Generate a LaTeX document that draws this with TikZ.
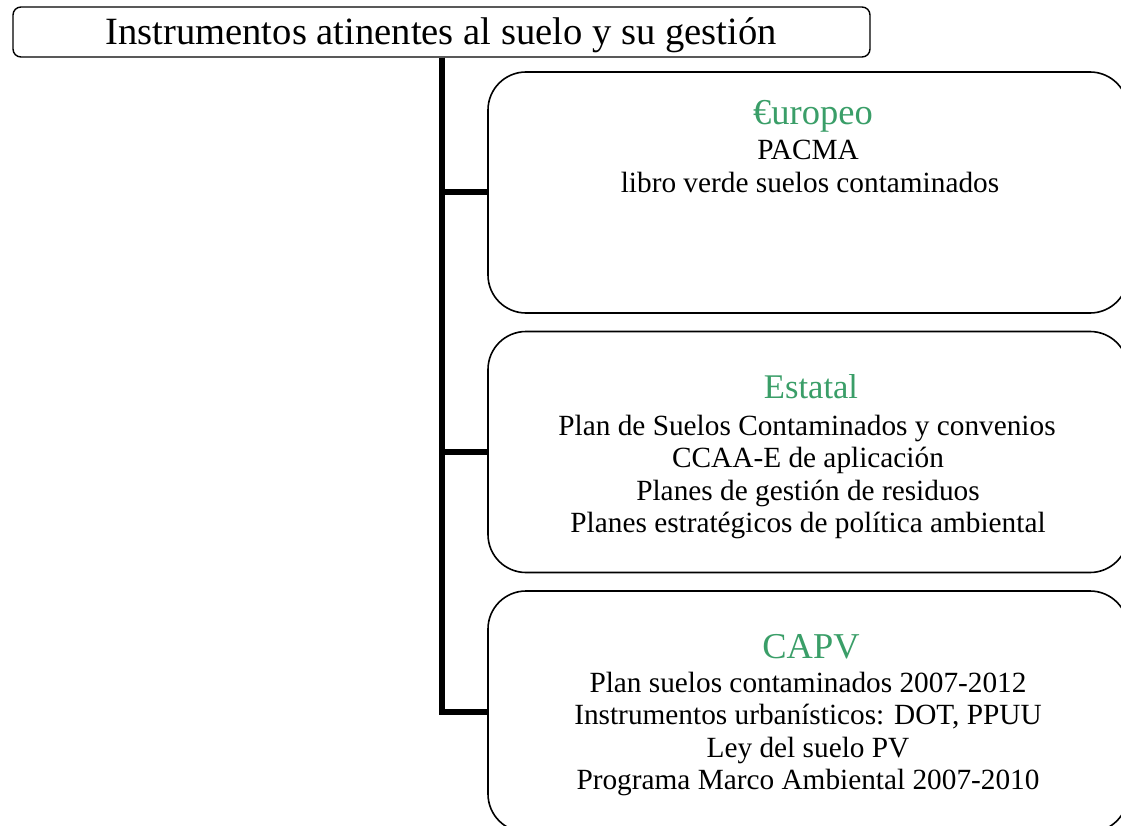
\documentclass[tikz,border=0pt]{standalone}
\usepackage{fontspec}
\setmainfont{Liberation Serif}
\definecolor{hgreen}{RGB}{58,158,104}
\tikzset{
  frame/.style={draw=black, line width=1.6pt, rounded corners=38pt, minimum width=640pt, minimum height=241pt, inner sep=0pt},
  titlebox/.style={draw=black, line width=1.4pt, rounded corners=8pt, minimum width=857pt, minimum height=50pt, inner sep=0pt},
  conn/.style={line width=6pt},
  head/.style={anchor=base, inner sep=0pt, text=hgreen, font=\fontsize{34.6}{38}\selectfont},
  bighead/.style={anchor=base, inner sep=0pt, text=hgreen, font=\fontsize{36.4}{40}\selectfont},
  body/.style={anchor=base, inner sep=0pt, font=\fontsize{29.3}{32}\selectfont},
  ttl/.style={anchor=base, inner sep=0pt, font=\fontsize{38.6}{42}\selectfont}
}
\begin{document}
\begin{tikzpicture}[x=1pt,y=-1pt]
\useasboundingbox (0,0) rectangle (1121,826);
\clip (0,0) rectangle (1121,826);
\node[titlebox] (title) at (441.5,32) {};
\node[ttl] (tt) at (441,45) {Instrumentos atinentes al suelo y su gestión};
\node[frame] (b1) at (808,192.5) {};
\node[frame] (b2) at (808,452) {};
\node[frame] (b3) at (808,711.5) {};
\draw[conn] (title.south) |- (b3.west);
\draw[conn] (title.south) |- (b1.west);
\draw[conn] (title.south) |- (b2.west);
% box 1
\node[head, font=\fontsize{36.5}{40}\selectfont] (h1) at (813,125) {€uropeo};
\node[body] (l11) at (808,160) {PACMA};
\node[body] (l12) at (810,193) {libro verde suelos contaminados};
% box 2
\node[head] (h2) at (811,398) {Estatal};
\node[body] (l21) at (807,435) {Plan de Suelos Contaminados y convenios};
\node[body] (l22) at (808,467.5) {CCAA-E de aplicación};
\node[body] (l23) at (808,500) {Planes de gestión de residuos};
\node[body] (l24) at (808,532.5) {Planes estratégicos de política ambiental};
% box 3
\node[bighead] (h3) at (811,658) {CAPV};
\node[body] (l31) at (808,692) {Plan suelos contaminados 2007-2012};
\node[body] (l32) at (808,724.5) {Instrumentos urbanísticos: DOT, PPUU};
\node[body] (l33) at (808,757) {Ley del suelo PV};
\node[body] (l34) at (808,789.5) {Programa Marco Ambiental 2007-2010};
\end{tikzpicture}
\end{document}
